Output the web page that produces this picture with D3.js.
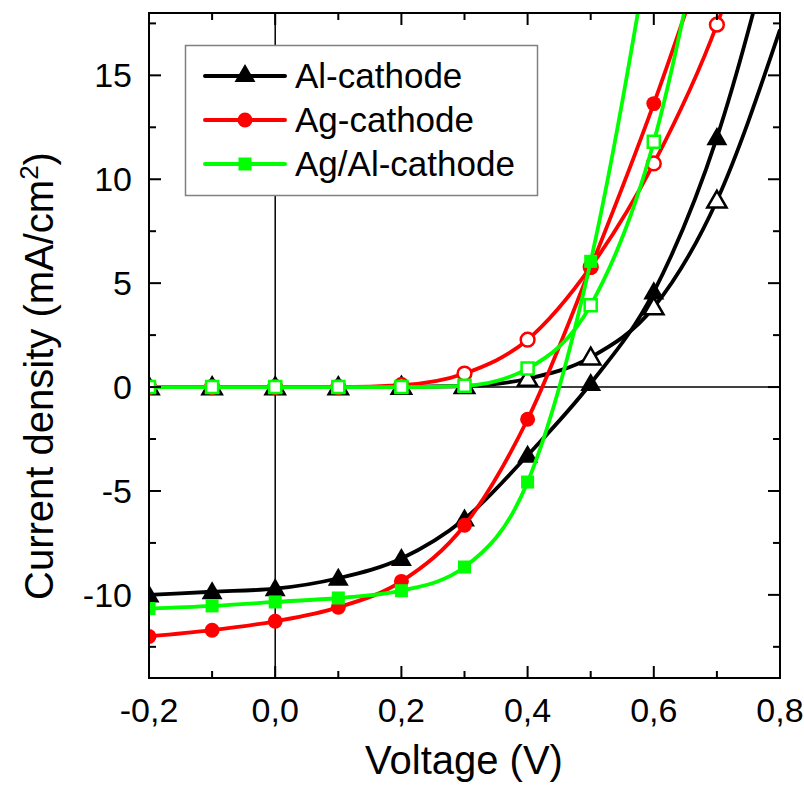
<!DOCTYPE html>
<html><head><meta charset="utf-8">
<script src="https://cdn.jsdelivr.net/npm/d3@7"></script>
<style>body{margin:0;background:#fff}svg{display:block}text{font-family:Arial,"Liberation Sans",sans-serif;fill:#000}</style>
</head><body>
<script>
// Voltage points (V)
const voltage = [-0.2, -0.1, 0.0, 0.1, 0.2, 0.3, 0.4, 0.5, 0.6, 0.7, 0.8];
// Current density (mA/cm2); light = filled markers, dark = open markers
const alLight  = [-10.0, -9.85, -9.7, -9.2, -8.25, -6.35, -3.28, 0.17, 4.58, 12.0, 23.0];
const alDark   = [0.0, 0.0, 0.0, 0.0, 0.02, 0.05, 0.4, 1.43, 3.84, 8.98, 17.2];
const agLight  = [-12.0, -11.7, -11.27, -10.6, -9.35, -6.65, -1.55, 5.75, 13.64, 22.5, null];
const agDark   = [0.0, 0.0, 0.0, 0.0, 0.09, 0.65, 2.28, 5.78, 10.76, 17.44, 27.0];
const agalLight= [-10.66, -10.53, -10.34, -10.15, -9.8, -8.66, -4.57, 6.05, 22.5, null, null];
const agalDark = [0.0, 0.0, 0.0, 0.0, 0.0, 0.06, 0.89, 3.94, 11.8, 26.0, null];
const markerLast = 0.7; // markers drawn up to this voltage
const xTicks = [-0.2, 0.0, 0.2, 0.4, 0.6, 0.8];
const yTicks = [-10, -5, 0, 5, 10, 15];
const seriesNames = ["Al-cathode", "Ag-cathode", "Ag/Al-cathode"];
const seriesColors = ["#000000", "#ff0000", "#00ff00"];

const W = 804, H = 794;
const svg = d3.select("body").append("svg").attr("width", W).attr("height", H);
const x = d3.scaleLinear().domain([-0.2, 0.8]).range([149, 780]);
const y = d3.scaleLinear().domain([-14, 18]).range([678, 13]);

const defs = svg.append("defs");
defs.append("clipPath").attr("id", "clip").append("rect")
  .attr("x", 149).attr("y", 13).attr("width", 631).attr("height", 665);

// zero lines
svg.append("line").attr("x1", x(-0.2)).attr("x2", x(0.8)).attr("y1", y(0)).attr("y2", y(0))
  .attr("stroke", "#000").attr("stroke-width", 1.5);
svg.append("line").attr("x1", x(0)).attr("x2", x(0)).attr("y1", y(-14)).attr("y2", y(18))
  .attr("stroke", "#000").attr("stroke-width", 1.5);

const sets = [
  {d: alDark, c: 0, open: true}, {d: alLight, c: 0, open: false},
  {d: agDark, c: 1, open: true}, {d: agLight, c: 1, open: false},
  {d: agalDark, c: 2, open: true}, {d: agalLight, c: 2, open: false}
];
const shapes = [d3.symbolTriangle, d3.symbolCircle, d3.symbolSquare];
const sizes = [190, 175, 170];

const line = d3.line().defined(d => d[1] !== null).curve(d3.curveMonotoneX)
  .x(d => x(d[0])).y(d => y(d[1]));
const plot = svg.append("g").attr("clip-path", "url(#clip)");
sets.forEach(s => {
  const pts = voltage.map((v, i) => [v, s.d[i]]).filter(p => p[1] !== null);
  plot.append("path").datum(pts).attr("d", line).attr("fill", "none")
    .attr("stroke", seriesColors[s.c]).attr("stroke-width", 3.8).attr("stroke-linejoin", "round");
  const mp = pts.filter(p => p[0] <= markerLast + 1e-9 && p[1] <= 18);
  plot.selectAll(null).data(mp).enter().append("path")
    .attr("d", d3.symbol().type(shapes[s.c]).size(s.open ? sizes[s.c] * 0.85 : sizes[s.c]))
    .attr("transform", p => `translate(${x(p[0])},${y(p[1]) + (s.c === 0 ? 1.5 : 0)})`)
    .attr("fill", s.open ? "#fff" : seriesColors[s.c])
    .attr("stroke", seriesColors[s.c]).attr("stroke-width", s.open ? 2.5 : 0);
});

// axes frame
const axG = svg.append("g");
axG.append("rect").attr("x", 149).attr("y", 13).attr("width", 631).attr("height", 665)
  .attr("fill", "none").attr("stroke", "#000").attr("stroke-width", 2);
const xMinor = d3.range(-0.1, 0.8, 0.2);
const yMinor = d3.range(-12.5, 18, 5);
function tickX(vals, len) {
  vals.forEach(v => {
    axG.append("line").attr("x1", x(v)).attr("x2", x(v)).attr("y1", 678).attr("y2", 678 - len).attr("stroke", "#000").attr("stroke-width", 2);
    axG.append("line").attr("x1", x(v)).attr("x2", x(v)).attr("y1", 13).attr("y2", 13 + len).attr("stroke", "#000").attr("stroke-width", 2);
  });
}
function tickY(vals, len) {
  vals.forEach(v => {
    axG.append("line").attr("y1", y(v)).attr("y2", y(v)).attr("x1", 149).attr("x2", 149 + len).attr("stroke", "#000").attr("stroke-width", 2);
    axG.append("line").attr("y1", y(v)).attr("y2", y(v)).attr("x1", 780).attr("x2", 780 - len).attr("stroke", "#000").attr("stroke-width", 2);
  });
}
tickX(xTicks, 12); tickX(xMinor, 7);
tickY(yTicks, 12); tickY(yMinor, 7);

const fmt = v => d3.format(".1f")(v).replace(".", ",").replace("−", "-");
axG.selectAll(null).data(xTicks).enter().append("text")
  .attr("x", d => x(d)).attr("y", 722).attr("text-anchor", "middle")
  .attr("font-size", 34).text(fmt);
axG.selectAll(null).data(yTicks).enter().append("text")
  .attr("x", 132).attr("y", d => y(d) + 12).attr("text-anchor", "end")
  .attr("font-size", 34).text(d => String(d));

svg.append("text").attr("x", 464).attr("y", 774).attr("text-anchor", "middle")
  .attr("font-size", 40).text("Voltage (V)");
const yt = svg.append("text").attr("transform", "translate(53,376) rotate(-90)")
  .attr("text-anchor", "middle").attr("font-size", 40);
yt.append("tspan").text("Current density (mA/cm");
yt.append("tspan").attr("font-size", 26).attr("dy", -15).text("2");
yt.append("tspan").attr("dy", 15).text(")");

// legend
const lg = svg.append("g");
lg.append("rect").attr("x", 185.5).attr("y", 45.5).attr("width", 352).attr("height", 150)
  .attr("fill", "#fff").attr("stroke", "#808080").attr("stroke-width", 1.5);
seriesNames.forEach((n, i) => {
  const yy = 76 + i * 44;
  lg.append("line").attr("x1", 205).attr("x2", 285).attr("y1", yy).attr("y2", yy)
    .attr("stroke", seriesColors[i]).attr("stroke-width", 4).attr("stroke-linecap", "round");
  lg.append("path").attr("d", d3.symbol().type(shapes[i]).size(sizes[i])())
    .attr("transform", `translate(245,${yy})`).attr("fill", seriesColors[i]);
  lg.append("text").attr("x", 295).attr("y", yy + 12).attr("font-size", 35).text(n);
});
</script>
</body></html>
